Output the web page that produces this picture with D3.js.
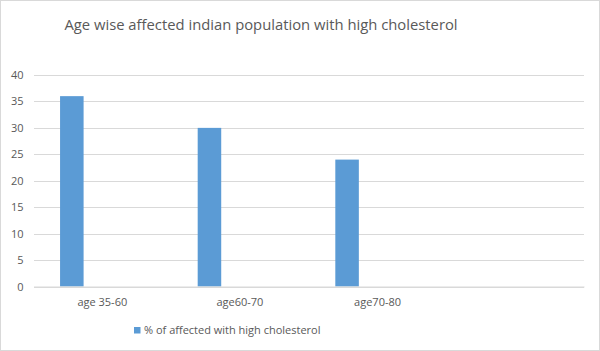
<!DOCTYPE html>
<html>
<head>
<meta charset="utf-8">
<script src="https://cdn.jsdelivr.net/npm/d3@7"></script>
<style>
  body { margin: 0; background: #fff; }
  svg { display: block; font-family: "Open Sans", "Noto Sans", sans-serif; }
</style>
</head>
<body>
<div id="chart"></div>
<script>
// data
const categories = ['age 35-60', 'age60-70', 'age70-80', ''];
const seriesName = '% of affected with high cholesterol';
const values = [36, 30, 24];
const yTicks = [0, 5, 10, 15, 20, 25, 30, 35, 40];
const title = 'Age wise affected indian population with high cholesterol';

const width = 600, height = 351;
const margin = {top: 75, right: 16, bottom: 64.5, left: 33.5};
const innerW = width - margin.left - margin.right;
const innerH = height - margin.top - margin.bottom;

const svg = d3.select('#chart')
  .append('svg')
  .attr('width', width)
  .attr('height', height);

// outer border
svg.append('rect')
  .attr('x', 0.5).attr('y', 0.5)
  .attr('width', width - 1).attr('height', height - 1)
  .attr('fill', '#fff')
  .attr('stroke', '#d9d9d9');

// title
svg.append('text')
  .attr('x', 261).attr('y', 30)
  .attr('text-anchor', 'middle')
  .attr('font-size', 14.8)
  .attr('fill', '#595959')
  .text(title);

const g = svg.append('g')
  .attr('transform', `translate(${margin.left}, ${margin.top})`);

// scales
const xScale = d3.scaleBand().domain(categories).range([0, innerW]).padding(0);
const yScale = d3.scaleLinear().domain([0, 40]).range([innerH, 0]);

// gridlines
const yAxis = d3.axisLeft(yScale).tickValues(yTicks).tickSize(-innerW).tickPadding(10);
const yAxisG = g.append('g').attr('class', 'y-axis').call(yAxis);
yAxisG.select('.domain').remove();
yAxisG.selectAll('.tick line').attr('stroke', '#d9d9d9').attr('shape-rendering', 'crispEdges');
yAxisG.selectAll('.tick text')
  .attr('fill', '#595959')
  .attr('font-size', 11)
  .attr('font-family', '"Open Sans", sans-serif');

// bars
const barOffset = xScale.bandwidth() * 0.193;
const barW = xScale.bandwidth() * 0.171;
g.selectAll('.bar')
  .data(values)
  .enter()
  .append('rect')
  .attr('class', 'bar')
  .attr('x', (d, i) => xScale(categories[i]) + barOffset)
  .attr('y', (d) => yScale(d))
  .attr('width', barW)
  .attr('height', (d) => yScale(0) - yScale(d))
  .attr('fill', '#5b9bd5');

// x axis
const xAxis = d3.axisBottom(xScale).tickSize(0).tickPadding(12);
const xAxisG = g.append('g')
  .attr('class', 'x-axis')
  .attr('transform', `translate(0, ${innerH})`)
  .call(xAxis);
xAxisG.select('.domain').attr('stroke', '#d9d9d9');
xAxisG.selectAll('.tick text')
  .attr('fill', '#595959')
  .attr('font-size', 11)
  .attr('font-family', '"Open Sans", sans-serif');

// legend
const legend = svg.append('g').attr('transform', 'translate(134, 327)');
legend.append('rect')
  .attr('width', 6.5).attr('height', 6.5)
  .attr('fill', '#5b9bd5');
legend.append('text')
  .attr('x', 10).attr('y', 7)
  .attr('font-size', 11)
  .attr('fill', '#595959')
  .text(seriesName);
</script>
</body>
</html>
